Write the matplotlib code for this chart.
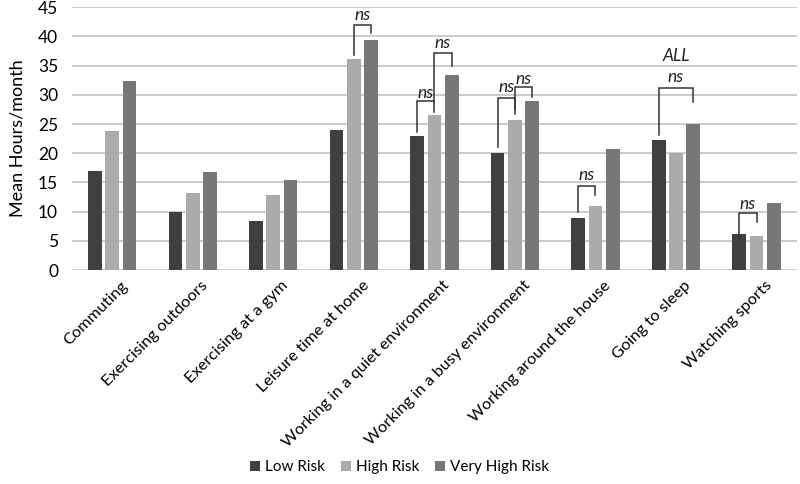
import matplotlib
matplotlib.use("Agg")
import matplotlib.pyplot as plt
import numpy as np

plt.rcParams['font.family'] = ['Lato', 'DejaVu Sans']

categories = ["Commuting", "Exercising outdoors", "Exercising at a gym", "Leisure time at home",
              "Working in a quiet environment", "Working in a busy environment",
              "Working around the house", "Going to sleep", "Watching sports"]
series_names = ["Low Risk", "High Risk", "Very High Risk"]
low_risk = [16.9, 9.9, 8.4, 23.9, 22.9, 20.1, 9.0, 22.2, 6.1]
high_risk = [23.8, 13.2, 12.8, 36.1, 26.5, 25.7, 10.9, 20.1, 5.8]
very_high_risk = [32.4, 16.8, 15.5, 39.4, 33.4, 28.9, 20.8, 25.0, 11.4]
yticks = [0, 5, 10, 15, 20, 25, 30, 35, 40, 45]

# brackets: (category index, left series, right series, left leg bottom, top, right leg bottom, label y)
brackets = [
    (3, 1, 2, 36.8, 42.0, 40.6, 43.6),
    (4, 0, 1, 23.6, 29.0, 27.1, 30.4),
    (4, 1, 2, 28.8, 37.1, 34.9, 38.9),
    (5, 0, 1, 21.1, 29.5, 27.5, 31.3),
    (5, 1, 2, 26.8, 31.3, 29.7, 32.7),
    (6, 0, 1, 9.9, 14.4, 12.8, 16.3),
    (7, 0, 2, 23.1, 31.1, 28.8, 33.0),
    (8, 0, 1, 5.3, 9.8, 8.2, 11.3),
]
extra_labels = [(7, 1, 36.6, "ALL")]

colors = ["#404040", "#ababab", "#777777"]
values = [low_risk, high_risk, very_high_risk]

fig = plt.figure(figsize=(8, 4.84), dpi=100)
ax = fig.add_axes([0.09, 0.442, 0.906, 0.543])

x = np.arange(len(categories))
width = 0.17
step = 0.215
offsets = [-step, 0, step]
for vals, c, off, name in zip(values, colors, offsets, series_names):
    ax.bar(x + off, vals, width=width, color=c, label=name, zorder=3)

for (ci, s1, s2, lb, top, rb, ly) in brackets:
    x1 = ci + offsets[s1]
    x2 = ci + offsets[s2]
    ax.plot([x1, x1, x2, x2], [lb, top, top, rb], color="#333333", lw=1.1, zorder=4,
            solid_joinstyle='miter')
    ax.text((x1 + x2) / 2, ly, "ns", ha="center", va="center", fontsize=12.5,
            style="italic", color="#222222")
for (ci, s, ly, t) in extra_labels:
    ax.text(ci + offsets[s], ly, t, ha="center", va="center", fontsize=12.5,
            style="italic", color="#222222")

ax.set_xlim(-0.5, len(categories) - 0.5)
ax.set_ylim(0, 45)
ax.set_yticks(yticks)
ax.set_yticklabels([str(v) for v in yticks], fontsize=12.5)
ax.yaxis.grid(True, color="#c8c8c8", lw=1.3, zorder=0)
ax.set_axisbelow(True)
for s in ["top", "right", "left", "bottom"]:
    ax.spines[s].set_visible(False)
ax.tick_params(axis="both", length=0)
ax.tick_params(axis="y", pad=10)
ax.set_xticks(x + 0.1)
ax.set_xticklabels(categories, rotation=45, ha="right", va="top", rotation_mode="anchor",
                   fontsize=11.8)
ax.tick_params(axis="x", pad=6)
ax.set_ylabel("Mean Hours/month", fontsize=13, labelpad=9)

ax.legend(loc="center", bbox_to_anchor=(0.452, -0.75), ncol=3, frameon=False, fontsize=11,
          handlelength=0.65, handleheight=0.65, handletextpad=0.35, columnspacing=1.0)

fig.savefig("out.png", dpi=100)
